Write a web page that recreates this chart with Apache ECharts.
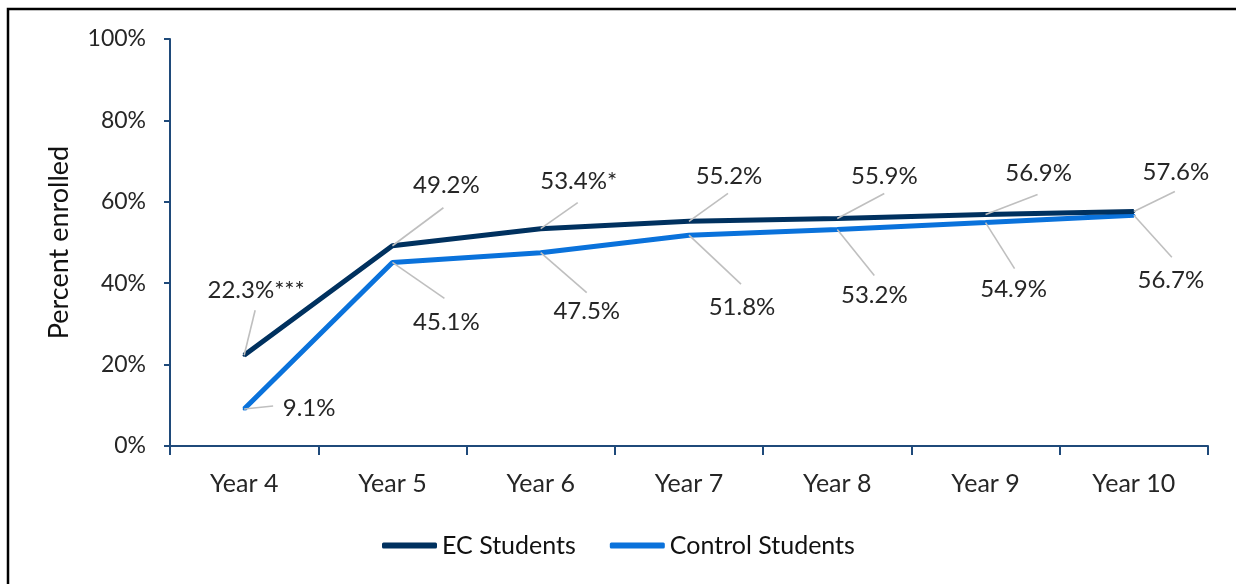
<!DOCTYPE html>
<html>
<head>
<meta charset="utf-8">
<script src="https://cdn.jsdelivr.net/npm/echarts@6/dist/echarts.min.js"></script>
<style>
  html, body { margin: 0; padding: 0; background: #fff; }
  #chart { width: 1236px; height: 584px; }
</style>
</head>
<body>
<div id="chart"></div>
<script>
const categories = ['Year 4', 'Year 5', 'Year 6', 'Year 7', 'Year 8', 'Year 9', 'Year 10'];
const ecStudents = [22.3, 49.2, 53.4, 55.2, 55.9, 56.9, 57.6];
const controlStudents = [9.1, 45.1, 47.5, 51.8, 53.2, 54.9, 56.7];
const ecLabels = ['22.3%***', '49.2%', '53.4%*', '55.2%', '55.9%', '56.9%', '57.6%'];
const controlLabels = ['9.1%', '45.1%', '47.5%', '51.8%', '53.2%', '54.9%', '56.7%'];
const yTicks = [0, 20, 40, 60, 80, 100];

const FONT = 'Lato';
const TXT = '#262626';
const AXIS = '#1f4a7a';
const EC_COLOR = '#00315f';
const CTL_COLOR = '#0a72db';

// layout only: label centre offsets and leader-line end offsets, relative to each point (px)
const ecLabelOff = [[12, -65], [54, -60], [38, -47], [40, -45], [47, -42], [53, -41], [42, -39]];
const ctlLabelOff = [[65, -1], [54, 60], [46, 59], [53, 72], [37, 66], [28, 67], [37, 65]];
const ecLeaderOff = [[11, -45], [51, -38], [37, -26], [39, -28], [47, -25], [52, -20], [41, -20]];
const ctlLeaderOff = [[29, -3], [52, 36], [46, 40], [52, 49], [37, 46], [29, 46], [38, 42]];

const chart = echarts.init(document.getElementById('chart'), null, { renderer: 'canvas' });

function mkLayout(offsets) {
  return function (p) {
    const o = offsets[p.dataIndex];
    const cx = p.rect.x + p.rect.width / 2;
    const cy = p.rect.y + p.rect.height / 2;
    return { x: cx + o[0], y: cy + o[1], align: 'center', verticalAlign: 'middle' };
  };
}

function leaderSeries(values, offsets) {
  return {
    type: 'custom',
    silent: true,
    z: 5,
    data: values.map(function (v, i) { return [i, v]; }),
    renderItem: function (params, api) {
      const p = api.coord([api.value(0), api.value(1)]);
      const o = offsets[params.dataIndex];
      return {
        type: 'line',
        shape: { x1: p[0], y1: p[1], x2: p[0] + o[0], y2: p[1] + o[1] },
        style: { stroke: '#bfbfbf', lineWidth: 1.6 }
      };
    },
    tooltip: { show: false }
  };
}

const option = {
  backgroundColor: '#ffffff',
  animation: false,
  textStyle: { fontFamily: FONT },
  graphic: [{
    type: 'rect',
    silent: true,
    shape: { x: 8, y: 9, width: 1400, height: 800 },
    style: { fill: 'none', stroke: '#000', lineWidth: 2.5 }
  }],
  grid: { left: 170, right: 28, top: 39, bottom: 138, containLabel: false },
  legend: {
    left: 377,
    top: 528,
    itemWidth: 55,
    itemHeight: 6,
    itemGap: 34,
    icon: 'roundRect',
    textStyle: { fontFamily: FONT, fontSize: 25, color: '#111' },
    data: ['EC Students', 'Control Students']
  },
  xAxis: {
    type: 'category',
    data: categories,
    boundaryGap: true,
    axisLine: { lineStyle: { color: AXIS, width: 2 } },
    axisTick: { show: true, length: 9, lineStyle: { color: AXIS, width: 2 } },
    axisLabel: { fontFamily: FONT, fontSize: 25, color: TXT, margin: 25 },
    splitLine: { show: false }
  },
  yAxis: {
    type: 'value',
    min: 0, max: 100, interval: 20,
    name: 'Percent enrolled',
    nameLocation: 'middle',
    nameGap: 97,
    nameRotate: 90,
    nameTextStyle: { fontFamily: FONT, fontSize: 27, color: '#111' },
    axisLine: { show: true, lineStyle: { color: AXIS, width: 2 } },
    axisTick: { show: true, inside: false, length: 6, lineStyle: { color: AXIS, width: 2 } },
    axisLabel: {
      fontFamily: FONT, fontSize: 23, color: TXT, margin: 24,
      formatter: function (v) { return yTicks.indexOf(v) >= 0 ? v + '%' : ''; }
    },
    splitLine: { show: false }
  },
  series: [
    {
      name: 'EC Students',
      type: 'line',
      data: ecStudents,
      symbol: 'circle',
      symbolSize: 3,
      itemStyle: { color: EC_COLOR },
      lineStyle: { color: EC_COLOR, width: 5 },
      label: {
        show: true, position: 'inside',
        fontFamily: FONT, fontSize: 24, color: TXT,
        formatter: function (p) { return ecLabels[p.dataIndex]; }
      },
      labelLayout: mkLayout(ecLabelOff),
      z: 3
    },
    {
      name: 'Control Students',
      type: 'line',
      data: controlStudents,
      symbol: 'circle',
      symbolSize: 3,
      itemStyle: { color: CTL_COLOR },
      lineStyle: { color: CTL_COLOR, width: 5 },
      label: {
        show: true, position: 'inside',
        fontFamily: FONT, fontSize: 24, color: TXT,
        formatter: function (p) { return controlLabels[p.dataIndex]; }
      },
      labelLayout: mkLayout(ctlLabelOff),
      z: 2
    },
    leaderSeries(ecStudents, ecLeaderOff),
    leaderSeries(controlStudents, ctlLeaderOff)
  ]
};
chart.setOption(option);
</script>
</body>
</html>
